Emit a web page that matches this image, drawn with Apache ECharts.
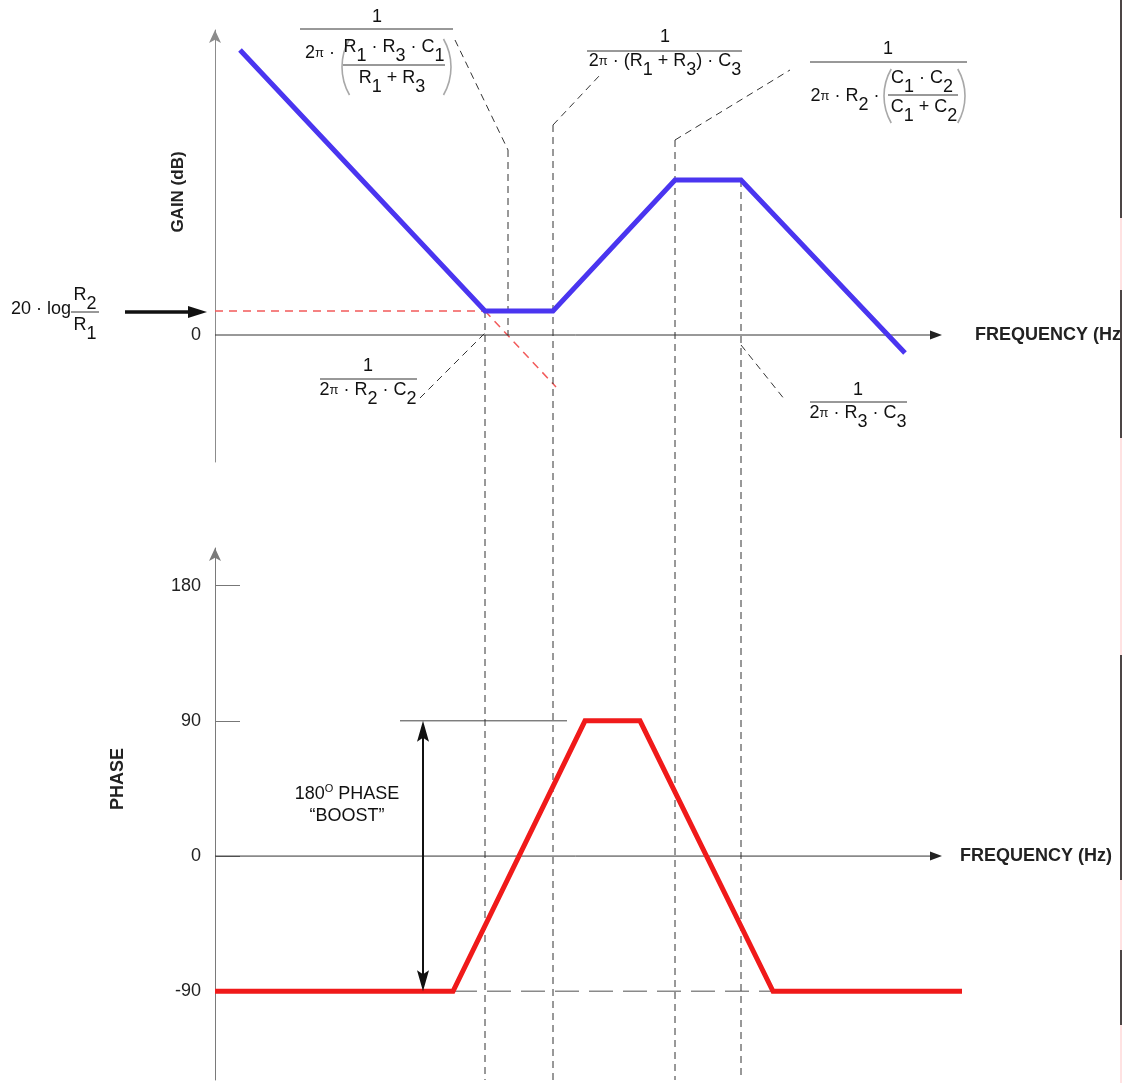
<!DOCTYPE html>
<html>
<head>
<meta charset="utf-8">
<script src="https://cdn.jsdelivr.net/npm/echarts@6/dist/echarts.min.js"></script>
<style>
  html, body { margin: 0; padding: 0; background: #fff; }
  #chart { width: 1129px; height: 1083px; }
</style>
</head>
<body>
<div id="chart"></div>
<script>
// Asymptotic Bode plot of a Type III compensator: gain (top) and phase (bottom)

// Frequency axis, schematic log-frequency units; the drawn axis ends at freqAxisEnd
const freqRange = [0, 747];
const freqAxisEnd = 727;

// Gain asymptote corners (frequency, dB units)
const gainFreq = [25, 270, 338, 460, 526, 690];
const gainDb   = [285, 24, 24, 155, 155, -18];
const gainRange = [-127, 305];
const gainTicks = [0];

// Mid-band level 20·log(R2/R1) and the continued integrator slope
const flatGainFreq = [0, 270];
const flatGainDb = 24;
const integratorExtFreq = [270, 341];
const integratorExtDb = [24, -52];

// Phase asymptotes (frequency, degrees)
const phaseFreq = [0, 238, 370, 425, 558, 747];
const phaseDeg  = [-90, -90, 90, 90, -90, -90];
const phaseRange = [-149, 205];
const phaseTicks = [-90, 0, 90, 180];

// Corner frequencies marked with vertical guides
const guideFreq  = [270, 293, 338, 460, 526];
const guideTopDb = [24, 185, 210, 195, 155];
const guideReachesPhase = [true, false, true, true, true];

// Leader lines from the corner formulas to the guides (frequency, dB)
const leaderFreq = [[240, 293], [338, 385], [460, 575], [205, 270], [526, 570]];
const leaderDb   = [[295, 185], [210, 260], [195, 265], [-63, 2], [-10, -65]];

// Phase boost: 90° reference, arrow spanning -90°..90°, dashed -90° floor
const boostRefFreq = [185, 352];
const boostArrowFreq = 208;
const boostDeg = [-90, 90];
const floorDashFreq = [238, 747];

const FONT = '"Liberation Sans", Arial, Helvetica, sans-serif';
const FAM = 'Liberation Sans';
const INK = '#111';

const zip = (xs, ys) => xs.map((x, i) => [x, ys[i]]);

const chart = echarts.init(document.getElementById('chart'), null, { renderer: 'canvas' });

const yArrowLine = (color) => ({
  show: true, onZero: false, symbol: ['none', 'arrow'], symbolSize: [9, 13],
  lineStyle: { color: color, width: 1 }
});
const hiddenX = (grid) => ({
  gridIndex: grid, type: 'value', min: freqRange[0], max: freqRange[1],
  axisLine: { show: false }, axisTick: { show: false }, axisLabel: { show: false },
  splitLine: { show: false }
});

const option = {
  animation: false,
  backgroundColor: '#ffffff',
  grid: [
    { left: 215, top: 30, width: 747, height: 432 },
    { left: 215, top: 548, width: 747, height: 532 }
  ],
  xAxis: [hiddenX(0), hiddenX(1)],
  yAxis: [
    {
      gridIndex: 0, type: 'value', min: gainRange[0], max: gainRange[1],
      axisLine: yArrowLine('#8c8c8c'), axisTick: { show: false },
      axisLabel: { show: true, customValues: gainTicks, margin: 14, fontFamily: FAM, fontSize: 18, color: '#222' },
      splitLine: { show: false }
    },
    {
      gridIndex: 1, type: 'value', min: phaseRange[0], max: phaseRange[1],
      axisLine: yArrowLine('#7a7a7a'),
      axisTick: { show: true, inside: true, length: 25, customValues: phaseTicks, lineStyle: { color: '#777', width: 1 } },
      axisLabel: { show: true, customValues: phaseTicks, margin: 14, fontFamily: FAM, fontSize: 18, color: '#222' },
      splitLine: { show: false }
    }
  ],
  series: [
    {
      name: 'Gain', type: 'line', xAxisIndex: 0, yAxisIndex: 0, z: 5,
      data: zip(gainFreq, gainDb), symbol: 'none',
      lineStyle: { color: '#4a35f0', width: 5, cap: 'butt', join: 'miter' }
    },
    {
      name: 'Mid-band level', type: 'line', xAxisIndex: 0, yAxisIndex: 0, z: 3,
      data: flatGainFreq.map(f => [f, flatGainDb]), symbol: 'none',
      lineStyle: { color: '#f25a5a', width: 1.5, type: [8, 6] }
    },
    {
      name: 'Integrator slope', type: 'line', xAxisIndex: 0, yAxisIndex: 0, z: 3,
      data: zip(integratorExtFreq, integratorExtDb), symbol: 'none',
      lineStyle: { color: '#f25a5a', width: 1.5, type: [8, 6] }
    },
    {
      name: '-90 floor', type: 'line', xAxisIndex: 1, yAxisIndex: 1, z: 2,
      data: floorDashFreq.map(f => [f, -90]), symbol: 'none',
      lineStyle: { color: '#8a8a8a', width: 1.5, type: [24, 10] }
    },
    {
      name: 'Phase', type: 'line', xAxisIndex: 1, yAxisIndex: 1, z: 5,
      data: zip(phaseFreq, phaseDeg), symbol: 'none',
      lineStyle: { color: '#f01a1a', width: 5, cap: 'butt', join: 'miter' }
    },
    {
      name: '90 reference', type: 'line', xAxisIndex: 1, yAxisIndex: 1, z: 2,
      data: boostRefFreq.map(f => [f, 90]), symbol: 'none',
      lineStyle: { color: '#444', width: 1 }
    }
  ]
};

chart.setOption(option);

// ---- annotations -------------------------------------------------------
const RICH = {
  i: { fontFamily: FAM, fontSize: 18, fill: INK, padding: [19, 0, 0, 0] },
  p: { fontFamily: FAM, fontSize: 13, fill: INK },
  o: { fontFamily: FAM, fontSize: 11, fill: INK, padding: [0, 0, 11, 0] }
};
function txt(x, y, text, extra) {
  return {
    type: 'text', x: x, y: y, z: 20,
    style: Object.assign({
      text: text, fill: INK, font: '18px ' + FONT,
      align: 'center', verticalAlign: 'middle', rich: RICH
    }, extra || {})
  };
}
function hbar(x1, x2, y) {
  return { type: 'line', z: 20, shape: { x1: x1, y1: y, x2: x2, y2: y }, style: { stroke: '#333', lineWidth: 1 } };
}
// tall bracket drawn as a shallow arc; xb is the outermost point
function paren(xb, cy, h, side) {
  const r = h;
  const left = side === 'left';
  return {
    type: 'arc', z: 20,
    shape: {
      cx: left ? xb + r : xb - r, cy: cy, r: r,
      startAngle: left ? Math.PI * 5 / 6 : -Math.PI / 6,
      endAngle: left ? Math.PI * 7 / 6 : Math.PI / 6,
      clockwise: true
    },
    style: { stroke: '#a8a8a8', lineWidth: 1.6, fill: null }
  };
}
function dashed(p, q, color) {
  return {
    type: 'line', z: 4, silent: true,
    shape: { x1: p[0], y1: p[1], x2: q[0], y2: q[1] },
    style: { stroke: color || '#333', lineWidth: 1, lineDash: [7, 5] }
  };
}

const g0 = (f, v) => chart.convertToPixel({ gridIndex: 0 }, [f, v]);
const g1 = (f, v) => chart.convertToPixel({ gridIndex: 1 }, [f, v]);

const gfx = [];

// frequency axes with arrowheads and titles
[[g0, 975], [g1, 960]].forEach(([conv, nameX]) => {
  const a = conv(0, 0);
  const b = conv(freqAxisEnd, 0);
  gfx.push({ type: 'line', z: 4, shape: { x1: a[0], y1: a[1], x2: b[0] - 6, y2: b[1] }, style: { stroke: '#333', lineWidth: 1 } });
  gfx.push({ type: 'polygon', z: 4, shape: { points: [[b[0], b[1]], [b[0] - 12, b[1] - 4.5], [b[0] - 12, b[1] + 4.5]] }, style: { fill: '#222' } });
  gfx.push({ type: 'text', z: 20, x: nameX, y: b[1],
    style: { text: 'FREQUENCY (Hz)', font: 'bold 18px ' + FONT, fill: '#222', align: 'left', verticalAlign: 'middle' } });
});

// vertical guides at the corner frequencies
guideFreq.forEach((f, i) => {
  const top = g0(f, guideTopDb[i]);
  const bot = guideReachesPhase[i] ? g1(f, phaseRange[0]) : g0(f, 0);
  gfx.push(dashed(top, bot));
});
// leaders to the formulas
leaderFreq.forEach((fs, i) => {
  gfx.push(dashed(g0(fs[0], leaderDb[i][0]), g0(fs[1], leaderDb[i][1])));
});

// phase boost double arrow
(function () {
  const a = g1(boostArrowFreq, boostDeg[1]);
  const b = g1(boostArrowFreq, boostDeg[0]);
  const x = a[0];
  gfx.push({ type: 'line', z: 6, shape: { x1: x, y1: a[1] + 16, x2: x, y2: b[1] - 16 }, style: { stroke: '#111', lineWidth: 2 } });
  gfx.push({ type: 'polygon', z: 6, shape: { points: [[x, a[1]], [x - 6, a[1] + 21], [x, a[1] + 17], [x + 6, a[1] + 21]] }, style: { fill: '#111' } });
  gfx.push({ type: 'polygon', z: 6, shape: { points: [[x, b[1]], [x - 6, b[1] - 21], [x, b[1] - 17], [x + 6, b[1] - 21]] }, style: { fill: '#111' } });
})();

// 20·log(R2/R1) pointer arrow
(function () {
  const y = g0(0, flatGainDb)[1] + 1;
  gfx.push({ type: 'line', z: 6, shape: { x1: 125, y1: y, x2: 192, y2: y }, style: { stroke: '#111', lineWidth: 3.5 } });
  gfx.push({ type: 'polygon', z: 6, shape: { points: [[207, y], [188, y - 6], [188, y + 6]] }, style: { fill: '#111' } });
  gfx.push(txt(41, y - 3, '20 · log'));
  gfx.push(txt(85, y - 17, 'R{i|2}'));
  gfx.push(hbar(71, 99, y));
  gfx.push(txt(85, y + 13, 'R{i|1}'));
})();

// 1 / (2π·(R1·R3·C1/(R1+R3)))
gfx.push(txt(377, 17, '1'));
gfx.push(hbar(300, 453, 29));
gfx.push(txt(320, 53, '2{p|π} ·'));
gfx.push(paren(342, 67, 56, 'left'));
gfx.push(txt(394, 47, 'R{i|1} · R{i|3} · C{i|1}'));
gfx.push(hbar(343, 445, 65));
gfx.push(txt(392, 78, 'R{i|1} + R{i|3}'));
gfx.push(paren(451, 67, 56, 'right'));

// 1 / (2π·(R1+R3)·C3)
gfx.push(txt(665, 37, '1'));
gfx.push(hbar(587, 742, 51));
gfx.push(txt(665, 61, '2{p|π} · (R{i|1} + R{i|3}) · C{i|3}'));

// 1 / (2π·R2·(C1·C2/(C1+C2)))
gfx.push(txt(888, 49, '1'));
gfx.push(hbar(810, 967, 62));
gfx.push(txt(845, 96, '2{p|π} · R{i|2} ·'));
gfx.push(paren(884, 96, 54, 'left'));
gfx.push(txt(922, 78, 'C{i|1} · C{i|2}'));
gfx.push(hbar(888, 958, 95));
gfx.push(txt(924, 107, 'C{i|1} + C{i|2}'));
gfx.push(paren(965, 96, 54, 'right'));

// 1 / (2π·R2·C2)
gfx.push(txt(368, 366, '1'));
gfx.push(hbar(320, 417, 379));
gfx.push(txt(368, 390, '2{p|π} · R{i|2} · C{i|2}'));

// 1 / (2π·R3·C3)
gfx.push(txt(858, 390, '1'));
gfx.push(hbar(810, 907, 402));
gfx.push(txt(858, 413, '2{p|π} · R{i|3} · C{i|3}'));

// axis titles
gfx.push({ type: 'text', x: 178, y: 192, rotation: Math.PI / 2, z: 20,
  style: { text: 'GAIN (dB)', font: 'bold 17px ' + FONT, fill: '#222', align: 'center', verticalAlign: 'middle' } });
gfx.push({ type: 'text', x: 118, y: 779, rotation: Math.PI / 2, z: 20,
  style: { text: 'PHASE', font: 'bold 18px ' + FONT, fill: '#222', align: 'center', verticalAlign: 'middle' } });

// boost caption
gfx.push(txt(347, 794, '180{o|O} PHASE'));
gfx.push(txt(347, 816, '“BOOST”'));

// page edge on the right
gfx.push({ type: 'rect', z: 30, shape: { x: 1121, y: 0, width: 8, height: 1083 }, style: { fill: '#fff' } });
gfx.push({ type: 'line', z: 31, shape: { x1: 1121, y1: 0, x2: 1121, y2: 1083 }, style: { stroke: '#ffd8d8', lineWidth: 1.5 } });
[[0, 218], [290, 438], [655, 880], [950, 1025]].forEach(s =>
  gfx.push({ type: 'line', z: 32, shape: { x1: 1121, y1: s[0], x2: 1121, y2: s[1] }, style: { stroke: '#111', lineWidth: 1.5 } }));

chart.setOption({ graphic: gfx });
</script>
</body>
</html>
